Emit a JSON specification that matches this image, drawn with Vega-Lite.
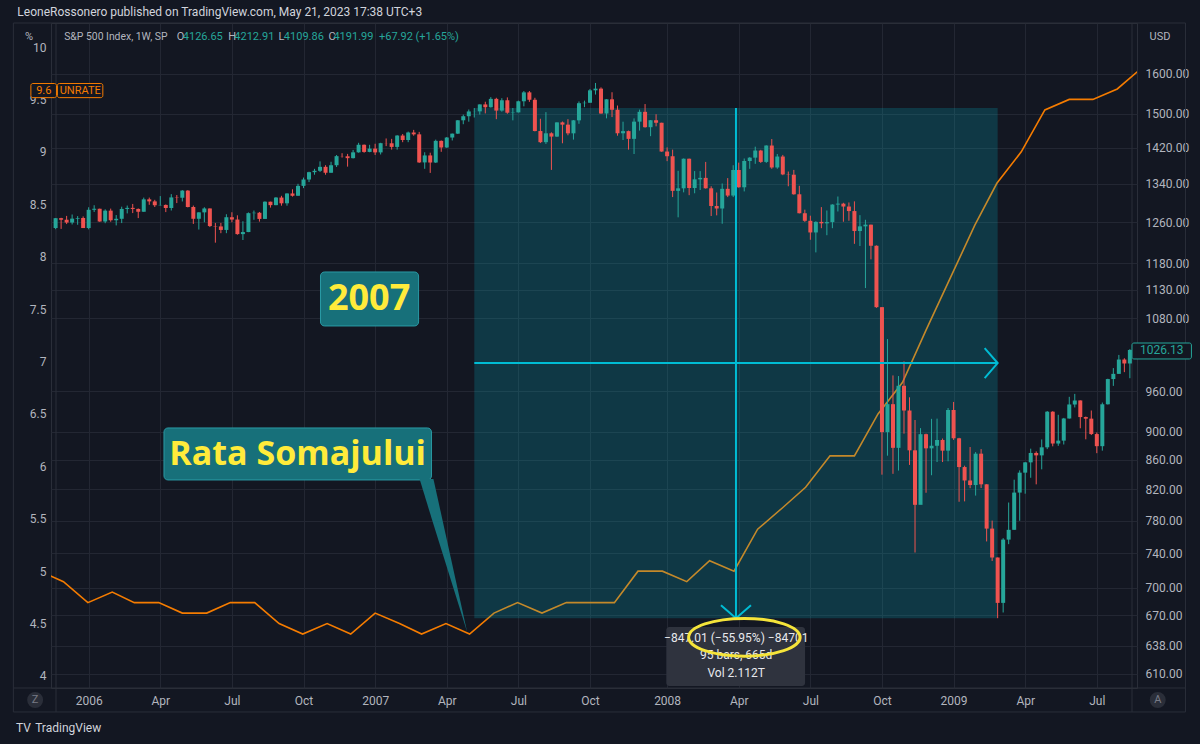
{
"$schema": "https://vega.github.io/schema/vega-lite/v6.json",
"width": 1086, "height": 665,
"autosize": {"type": "none"},
"padding": {"left": 51, "top": 23, "right": 63, "bottom": 56},
"background": "#131722",
"config": {
  "view": {"stroke": "#2a2e39", "fill": "#131722"},
  "axis": {"labelFont": "Roboto", "labelFontSize": 12, "labelColor": "#b2b5be", "domain": false, "ticks": false, "tickSize": 0, "title": null, "gridColor": "#232733", "gridWidth": 1, "labelOverlap": false, "labelFlush": false, "labelBaseline": "middle"},
  "text": {"font": "Roboto"}
},
"datasets": {
"candles": [
{"date":"2005-11-21","o":1248.3,"h":1268.6,"l":1246.0,"c":1268.25},
{"date":"2005-11-28","o":1268.25,"h":1269.0,"l":1246.6,"c":1265.08},
{"date":"2005-12-05","o":1265.08,"h":1272.9,"l":1256.3,"c":1259.37},
{"date":"2005-12-12","o":1259.37,"h":1275.8,"l":1255.5,"c":1267.32},
{"date":"2005-12-19","o":1267.32,"h":1272.5,"l":1254.9,"c":1268.66},
{"date":"2005-12-26","o":1268.66,"h":1271.8,"l":1248.3,"c":1248.29},
{"date":"2006-01-02","o":1248.29,"h":1290.7,"l":1245.7,"c":1285.45},
{"date":"2006-01-09","o":1285.45,"h":1294.9,"l":1281.0,"c":1287.61},
{"date":"2006-01-16","o":1287.61,"h":1287.8,"l":1260.9,"c":1261.49},
{"date":"2006-01-23","o":1261.49,"h":1286.4,"l":1258.0,"c":1283.72},
{"date":"2006-01-30","o":1283.72,"h":1287.9,"l":1261.0,"c":1264.03},
{"date":"2006-02-06","o":1264.03,"h":1274.6,"l":1253.6,"c":1266.99},
{"date":"2006-02-13","o":1266.99,"h":1291.9,"l":1258.3,"c":1287.24},
{"date":"2006-02-20","o":1287.24,"h":1294.2,"l":1278.0,"c":1289.43},
{"date":"2006-02-27","o":1289.43,"h":1297.6,"l":1278.7,"c":1287.23},
{"date":"2006-03-06","o":1287.23,"h":1288.2,"l":1268.4,"c":1281.42},
{"date":"2006-03-13","o":1281.42,"h":1310.9,"l":1281.4,"c":1307.25},
{"date":"2006-03-20","o":1307.25,"h":1310.9,"l":1295.8,"c":1302.95},
{"date":"2006-03-27","o":1302.95,"h":1306.2,"l":1291.2,"c":1294.87},
{"date":"2006-04-03","o":1294.87,"h":1314.1,"l":1294.2,"c":1295.5},
{"date":"2006-04-10","o":1295.5,"h":1296.6,"l":1280.7,"c":1289.12},
{"date":"2006-04-17","o":1289.12,"h":1318.2,"l":1284.0,"c":1311.28},
{"date":"2006-04-24","o":1311.28,"h":1316.3,"l":1299.4,"c":1310.61},
{"date":"2006-05-01","o":1310.61,"h":1326.7,"l":1302.8,"c":1325.76},
{"date":"2006-05-08","o":1325.76,"h":1326.7,"l":1290.4,"c":1291.24},
{"date":"2006-05-15","o":1291.24,"h":1294.2,"l":1256.6,"c":1267.03},
{"date":"2006-05-22","o":1267.03,"h":1280.5,"l":1245.3,"c":1280.16},
{"date":"2006-05-29","o":1280.16,"h":1290.7,"l":1259.9,"c":1288.22},
{"date":"2006-06-05","o":1288.22,"h":1288.2,"l":1250.3,"c":1252.3},
{"date":"2006-06-12","o":1252.3,"h":1258.6,"l":1219.3,"c":1251.54},
{"date":"2006-06-19","o":1251.54,"h":1258.6,"l":1238.0,"c":1244.5},
{"date":"2006-06-26","o":1244.5,"h":1276.3,"l":1238.0,"c":1270.2},
{"date":"2006-07-03","o":1270.2,"h":1280.4,"l":1260.0,"c":1265.48},
{"date":"2006-07-10","o":1265.48,"h":1274.1,"l":1235.0,"c":1236.2},
{"date":"2006-07-17","o":1236.2,"h":1262.0,"l":1224.5,"c":1240.29},
{"date":"2006-07-24","o":1240.29,"h":1280.0,"l":1240.1,"c":1278.55},
{"date":"2006-07-31","o":1278.55,"h":1283.9,"l":1265.0,"c":1279.36},
{"date":"2006-08-07","o":1279.36,"h":1281.0,"l":1261.3,"c":1266.74},
{"date":"2006-08-14","o":1266.74,"h":1303.0,"l":1266.7,"c":1302.3},
{"date":"2006-08-21","o":1302.3,"h":1302.3,"l":1290.0,"c":1295.09},
{"date":"2006-08-28","o":1295.09,"h":1312.0,"l":1295.0,"c":1311.01},
{"date":"2006-09-04","o":1311.01,"h":1314.7,"l":1294.0,"c":1298.92},
{"date":"2006-09-11","o":1298.92,"h":1320.0,"l":1294.0,"c":1319.66},
{"date":"2006-09-18","o":1319.66,"h":1328.5,"l":1313.0,"c":1314.78},
{"date":"2006-09-25","o":1314.78,"h":1340.3,"l":1314.8,"c":1335.85},
{"date":"2006-10-02","o":1335.85,"h":1353.8,"l":1331.0,"c":1349.59},
{"date":"2006-10-09","o":1349.59,"h":1366.6,"l":1344.0,"c":1365.62},
{"date":"2006-10-16","o":1365.62,"h":1372.9,"l":1360.0,"c":1368.6},
{"date":"2006-10-23","o":1368.6,"h":1389.5,"l":1366.0,"c":1377.34},
{"date":"2006-10-30","o":1377.34,"h":1381.0,"l":1360.0,"c":1364.3},
{"date":"2006-11-06","o":1364.3,"h":1388.6,"l":1364.3,"c":1380.9},
{"date":"2006-11-13","o":1380.9,"h":1403.8,"l":1377.0,"c":1401.2},
{"date":"2006-11-20","o":1401.2,"h":1407.9,"l":1398.0,"c":1400.95},
{"date":"2006-11-27","o":1400.95,"h":1406.3,"l":1377.8,"c":1396.71},
{"date":"2006-12-04","o":1396.71,"h":1415.3,"l":1396.0,"c":1409.84},
{"date":"2006-12-11","o":1409.84,"h":1431.6,"l":1409.0,"c":1427.09},
{"date":"2006-12-18","o":1427.09,"h":1427.7,"l":1408.9,"c":1410.76},
{"date":"2006-12-25","o":1410.76,"h":1427.0,"l":1410.0,"c":1418.3},
{"date":"2007-01-01","o":1418.3,"h":1429.4,"l":1403.9,"c":1409.71},
{"date":"2007-01-08","o":1409.71,"h":1431.6,"l":1405.0,"c":1430.73},
{"date":"2007-01-15","o":1430.73,"h":1441.6,"l":1424.0,"c":1430.5},
{"date":"2007-01-22","o":1430.5,"h":1440.7,"l":1416.0,"c":1422.18},
{"date":"2007-01-29","o":1422.18,"h":1449.3,"l":1416.0,"c":1448.39},
{"date":"2007-02-05","o":1448.39,"h":1452.0,"l":1433.0,"c":1438.06},
{"date":"2007-02-12","o":1438.06,"h":1457.6,"l":1433.0,"c":1455.54},
{"date":"2007-02-19","o":1455.54,"h":1461.6,"l":1448.0,"c":1451.19},
{"date":"2007-02-26","o":1451.19,"h":1456.9,"l":1386.0,"c":1387.17},
{"date":"2007-03-05","o":1387.17,"h":1410.0,"l":1373.0,"c":1402.84},
{"date":"2007-03-12","o":1402.84,"h":1409.0,"l":1364.0,"c":1386.95},
{"date":"2007-03-19","o":1386.95,"h":1438.9,"l":1386.0,"c":1436.11},
{"date":"2007-03-26","o":1436.11,"h":1437.0,"l":1411.0,"c":1420.86},
{"date":"2007-04-02","o":1420.86,"h":1445.0,"l":1420.0,"c":1443.76},
{"date":"2007-04-09","o":1443.76,"h":1453.0,"l":1437.0,"c":1452.85},
{"date":"2007-04-16","o":1452.85,"h":1484.7,"l":1452.0,"c":1484.35},
{"date":"2007-04-23","o":1484.35,"h":1498.0,"l":1475.0,"c":1494.07},
{"date":"2007-04-30","o":1494.07,"h":1510.3,"l":1481.0,"c":1505.62},
{"date":"2007-05-07","o":1505.62,"h":1513.8,"l":1491.0,"c":1505.85},
{"date":"2007-05-14","o":1505.85,"h":1522.8,"l":1498.0,"c":1522.75},
{"date":"2007-05-21","o":1522.75,"h":1529.3,"l":1500.8,"c":1515.73},
{"date":"2007-05-28","o":1515.73,"h":1540.6,"l":1515.0,"c":1536.34},
{"date":"2007-06-04","o":1536.34,"h":1539.0,"l":1487.0,"c":1507.67},
{"date":"2007-06-11","o":1507.67,"h":1538.0,"l":1505.0,"c":1532.91},
{"date":"2007-06-18","o":1532.91,"h":1540.0,"l":1500.0,"c":1502.56},
{"date":"2007-06-25","o":1502.56,"h":1514.0,"l":1484.2,"c":1503.35},
{"date":"2007-07-02","o":1503.35,"h":1532.0,"l":1503.0,"c":1530.44},
{"date":"2007-07-09","o":1530.44,"h":1555.9,"l":1518.0,"c":1552.5},
{"date":"2007-07-16","o":1552.5,"h":1555.9,"l":1529.0,"c":1534.1},
{"date":"2007-07-23","o":1534.1,"h":1539.0,"l":1458.0,"c":1458.95},
{"date":"2007-07-30","o":1458.95,"h":1488.0,"l":1431.0,"c":1433.06},
{"date":"2007-08-06","o":1433.06,"h":1503.9,"l":1429.0,"c":1453.64},
{"date":"2007-08-13","o":1453.64,"h":1456.0,"l":1370.6,"c":1445.94},
{"date":"2007-08-20","o":1445.94,"h":1479.4,"l":1445.0,"c":1479.37},
{"date":"2007-08-27","o":1479.37,"h":1481.5,"l":1430.5,"c":1473.99},
{"date":"2007-09-03","o":1473.99,"h":1487.0,"l":1449.0,"c":1453.55},
{"date":"2007-09-10","o":1453.55,"h":1485.0,"l":1439.0,"c":1484.25},
{"date":"2007-09-17","o":1484.25,"h":1530.0,"l":1476.0,"c":1525.75},
{"date":"2007-09-24","o":1525.75,"h":1532.0,"l":1516.0,"c":1526.75},
{"date":"2007-10-01","o":1526.75,"h":1561.0,"l":1527.0,"c":1557.59},
{"date":"2007-10-08","o":1557.59,"h":1576.1,"l":1547.0,"c":1561.8},
{"date":"2007-10-15","o":1561.8,"h":1565.0,"l":1500.0,"c":1500.63},
{"date":"2007-10-22","o":1500.63,"h":1535.5,"l":1489.0,"c":1535.28},
{"date":"2007-10-29","o":1535.28,"h":1552.8,"l":1492.0,"c":1509.65},
{"date":"2007-11-05","o":1509.65,"h":1520.0,"l":1448.0,"c":1453.7},
{"date":"2007-11-12","o":1453.7,"h":1481.0,"l":1438.0,"c":1458.74},
{"date":"2007-11-19","o":1458.74,"h":1460.0,"l":1416.0,"c":1440.7},
{"date":"2007-11-26","o":1440.7,"h":1488.9,"l":1406.0,"c":1481.14},
{"date":"2007-12-03","o":1481.14,"h":1510.0,"l":1460.0,"c":1504.66},
{"date":"2007-12-10","o":1504.66,"h":1523.6,"l":1467.0,"c":1467.95},
{"date":"2007-12-17","o":1467.95,"h":1485.0,"l":1447.0,"c":1484.46},
{"date":"2007-12-24","o":1484.46,"h":1498.9,"l":1470.0,"c":1478.49},
{"date":"2007-12-31","o":1478.49,"h":1478.5,"l":1411.0,"c":1411.63},
{"date":"2008-01-07","o":1411.63,"h":1421.0,"l":1390.0,"c":1401.02},
{"date":"2008-01-14","o":1401.02,"h":1416.0,"l":1312.0,"c":1325.19},
{"date":"2008-01-21","o":1325.19,"h":1368.6,"l":1270.0,"c":1330.61},
{"date":"2008-01-28","o":1330.61,"h":1396.0,"l":1322.0,"c":1395.42},
{"date":"2008-02-04","o":1395.42,"h":1395.7,"l":1316.0,"c":1331.29},
{"date":"2008-02-11","o":1331.29,"h":1368.0,"l":1320.0,"c":1349.99},
{"date":"2008-02-18","o":1349.99,"h":1367.9,"l":1327.0,"c":1353.11},
{"date":"2008-02-25","o":1353.11,"h":1388.3,"l":1330.0,"c":1330.63},
{"date":"2008-03-03","o":1330.63,"h":1335.0,"l":1272.7,"c":1293.37},
{"date":"2008-03-10","o":1293.37,"h":1321.7,"l":1274.0,"c":1288.14},
{"date":"2008-03-17","o":1288.14,"h":1341.0,"l":1257.0,"c":1329.51},
{"date":"2008-03-24","o":1329.51,"h":1352.6,"l":1312.0,"c":1315.22},
{"date":"2008-03-31","o":1315.22,"h":1380.9,"l":1312.0,"c":1370.4},
{"date":"2008-04-07","o":1370.4,"h":1386.7,"l":1332.0,"c":1332.83},
{"date":"2008-04-14","o":1332.83,"h":1395.9,"l":1324.0,"c":1390.33},
{"date":"2008-04-21","o":1390.33,"h":1399.0,"l":1373.0,"c":1397.84},
{"date":"2008-04-28","o":1397.84,"h":1422.7,"l":1384.0,"c":1413.9},
{"date":"2008-05-05","o":1413.9,"h":1415.5,"l":1386.0,"c":1388.28},
{"date":"2008-05-12","o":1388.28,"h":1425.9,"l":1386.0,"c":1425.35},
{"date":"2008-05-19","o":1425.35,"h":1440.2,"l":1373.0,"c":1375.93},
{"date":"2008-05-26","o":1375.93,"h":1406.0,"l":1373.0,"c":1400.38},
{"date":"2008-06-02","o":1400.38,"h":1404.0,"l":1359.0,"c":1360.68},
{"date":"2008-06-09","o":1360.68,"h":1367.0,"l":1335.0,"c":1360.03},
{"date":"2008-06-16","o":1360.03,"h":1370.6,"l":1317.0,"c":1317.93},
{"date":"2008-06-23","o":1317.93,"h":1336.0,"l":1278.0,"c":1278.38},
{"date":"2008-06-30","o":1278.38,"h":1285.7,"l":1260.7,"c":1262.9},
{"date":"2008-07-07","o":1262.9,"h":1273.3,"l":1225.0,"c":1239.49},
{"date":"2008-07-14","o":1239.49,"h":1262.0,"l":1200.4,"c":1260.68},
{"date":"2008-07-21","o":1260.68,"h":1291.0,"l":1248.0,"c":1257.76},
{"date":"2008-07-28","o":1257.76,"h":1284.0,"l":1234.0,"c":1260.31},
{"date":"2008-08-04","o":1260.31,"h":1297.0,"l":1248.0,"c":1296.32},
{"date":"2008-08-11","o":1296.32,"h":1313.2,"l":1282.0,"c":1298.2},
{"date":"2008-08-18","o":1298.2,"h":1300.0,"l":1261.0,"c":1292.2},
{"date":"2008-08-25","o":1292.2,"h":1300.7,"l":1263.0,"c":1282.83},
{"date":"2008-09-01","o":1282.83,"h":1303.0,"l":1217.0,"c":1242.31},
{"date":"2008-09-08","o":1242.31,"h":1274.4,"l":1212.8,"c":1251.7},
{"date":"2008-09-15","o":1251.7,"h":1265.0,"l":1133.5,"c":1255.08},
{"date":"2008-09-22","o":1255.08,"h":1255.1,"l":1187.0,"c":1213.27},
{"date":"2008-09-29","o":1213.27,"h":1214.0,"l":1098.0,"c":1099.23},
{"date":"2008-10-06","o":1099.23,"h":1099.2,"l":839.8,"c":899.22},
{"date":"2008-10-13","o":899.22,"h":1044.3,"l":865.8,"c":940.55},
{"date":"2008-10-20","o":940.55,"h":985.0,"l":840.9,"c":876.77},
{"date":"2008-10-27","o":876.77,"h":984.0,"l":845.3,"c":968.75},
{"date":"2008-11-03","o":968.75,"h":1007.5,"l":897.0,"c":930.99},
{"date":"2008-11-10","o":930.99,"h":951.0,"l":853.0,"c":873.29},
{"date":"2008-11-17","o":873.29,"h":916.9,"l":741.0,"c":800.03},
{"date":"2008-11-24","o":800.03,"h":905.0,"l":801.0,"c":896.24},
{"date":"2008-12-01","o":896.24,"h":897.0,"l":815.7,"c":876.07},
{"date":"2008-12-08","o":876.07,"h":918.6,"l":839.0,"c":879.73},
{"date":"2008-12-15","o":879.73,"h":918.9,"l":857.0,"c":887.88},
{"date":"2008-12-22","o":887.88,"h":890.0,"l":857.0,"c":872.8},
{"date":"2008-12-29","o":872.8,"h":934.7,"l":858.0,"c":931.8},
{"date":"2009-01-05","o":931.8,"h":943.9,"l":888.0,"c":890.35},
{"date":"2009-01-12","o":890.35,"h":891.0,"l":804.0,"c":850.12},
{"date":"2009-01-19","o":850.12,"h":852.0,"l":804.5,"c":831.95},
{"date":"2009-01-26","o":831.95,"h":877.9,"l":821.7,"c":825.88},
{"date":"2009-02-02","o":825.88,"h":870.8,"l":812.0,"c":868.6},
{"date":"2009-02-09","o":868.6,"h":875.0,"l":822.0,"c":826.84},
{"date":"2009-02-16","o":826.84,"h":827.0,"l":754.3,"c":770.05},
{"date":"2009-02-23","o":770.05,"h":780.0,"l":731.0,"c":735.09},
{"date":"2009-03-02","o":735.09,"h":735.1,"l":666.8,"c":683.38},
{"date":"2009-03-09","o":683.38,"h":758.3,"l":672.9,"c":756.55},
{"date":"2009-03-16","o":756.55,"h":803.0,"l":751.0,"c":768.54},
{"date":"2009-03-23","o":768.54,"h":833.0,"l":768.6,"c":815.94},
{"date":"2009-03-30","o":815.94,"h":845.6,"l":779.8,"c":842.5},
{"date":"2009-04-06","o":842.5,"h":856.9,"l":814.5,"c":856.56},
{"date":"2009-04-13","o":856.56,"h":875.6,"l":835.6,"c":869.6},
{"date":"2009-04-20","o":869.6,"h":871.8,"l":826.8,"c":866.23},
{"date":"2009-04-27","o":866.23,"h":888.7,"l":847.0,"c":877.52},
{"date":"2009-05-04","o":877.52,"h":930.2,"l":875.0,"c":929.23},
{"date":"2009-05-11","o":929.23,"h":930.0,"l":878.9,"c":882.88},
{"date":"2009-05-18","o":882.88,"h":924.6,"l":879.6,"c":887.0},
{"date":"2009-05-25","o":887.0,"h":920.0,"l":881.5,"c":919.14},
{"date":"2009-06-01","o":919.14,"h":951.7,"l":919.0,"c":940.09},
{"date":"2009-06-08","o":940.09,"h":956.2,"l":935.6,"c":946.21},
{"date":"2009-06-15","o":946.21,"h":946.2,"l":904.8,"c":921.23},
{"date":"2009-06-22","o":921.23,"h":922.0,"l":888.9,"c":918.9},
{"date":"2009-06-29","o":918.9,"h":931.0,"l":895.0,"c":896.42},
{"date":"2009-07-06","o":896.42,"h":898.7,"l":869.3,"c":879.13},
{"date":"2009-07-13","o":879.13,"h":943.0,"l":872.8,"c":940.38},
{"date":"2009-07-20","o":940.38,"h":979.8,"l":940.0,"c":979.26},
{"date":"2009-07-27","o":979.26,"h":996.7,"l":968.6,"c":987.48},
{"date":"2009-08-03","o":987.48,"h":1018.0,"l":987.5,"c":1010.48},
{"date":"2009-08-10","o":1010.48,"h":1012.6,"l":990.2,"c":1004.09},
{"date":"2009-08-17","o":1004.09,"h":1027.6,"l":980.6,"c":1026.13}
],
"unrate": [
{"date":"2005-11-01","v":5.0},{"date":"2005-12-01","v":4.9},{"date":"2006-01-01","v":4.7},{"date":"2006-02-01","v":4.8},
{"date":"2006-03-01","v":4.7},{"date":"2006-04-01","v":4.7},{"date":"2006-05-01","v":4.6},{"date":"2006-06-01","v":4.6},
{"date":"2006-07-01","v":4.7},{"date":"2006-08-01","v":4.7},{"date":"2006-09-01","v":4.5},{"date":"2006-10-01","v":4.4},
{"date":"2006-11-01","v":4.5},{"date":"2006-12-01","v":4.4},{"date":"2007-01-01","v":4.6},{"date":"2007-02-01","v":4.5},
{"date":"2007-03-01","v":4.4},{"date":"2007-04-01","v":4.5},{"date":"2007-05-01","v":4.4},{"date":"2007-06-01","v":4.6},
{"date":"2007-07-01","v":4.7},{"date":"2007-08-01","v":4.6},{"date":"2007-09-01","v":4.7},{"date":"2007-10-01","v":4.7},
{"date":"2007-11-01","v":4.7},{"date":"2007-12-01","v":5.0},{"date":"2008-01-01","v":5.0},{"date":"2008-02-01","v":4.9},
{"date":"2008-03-01","v":5.1},{"date":"2008-04-01","v":5.0},{"date":"2008-05-01","v":5.4},{"date":"2008-06-01","v":5.6},
{"date":"2008-07-01","v":5.8},{"date":"2008-08-01","v":6.1},{"date":"2008-09-01","v":6.1},{"date":"2008-10-01","v":6.5},
{"date":"2008-11-01","v":6.8},{"date":"2008-12-01","v":7.3},{"date":"2009-01-01","v":7.8},{"date":"2009-02-01","v":8.3},
{"date":"2009-03-01","v":8.7},{"date":"2009-04-01","v":9.0},{"date":"2009-05-01","v":9.4},{"date":"2009-06-01","v":9.5},
{"date":"2009-07-01","v":9.5},{"date":"2009-08-01","v":9.6},{"date":"2009-09-01","v":9.8}
]
},
"encoding": {
  "x": {"field": "date", "type": "temporal",
    "scale": {"type": "utc", "domain": [{"year":2005,"month":11,"date":21,"hours":12,"utc":true},{"year":2009,"month":8,"date":19,"hours":17,"utc":true}]},
    "axis": {"grid": true, "labelPadding": 12,
      "values": [{"year":2006,"month":1,"date":2,"utc":true},{"year":2006,"month":4,"date":3,"utc":true},{"year":2006,"month":7,"date":3,"utc":true},{"year":2006,"month":10,"date":2,"utc":true},{"year":2007,"month":1,"date":1,"utc":true},{"year":2007,"month":4,"date":2,"utc":true},{"year":2007,"month":7,"date":2,"utc":true},{"year":2007,"month":10,"date":1,"utc":true},{"year":2008,"month":1,"date":7,"utc":true},{"year":2008,"month":4,"date":7,"utc":true},{"year":2008,"month":7,"date":7,"utc":true},{"year":2008,"month":10,"date":6,"utc":true},{"year":2009,"month":1,"date":5,"utc":true},{"year":2009,"month":4,"date":6,"utc":true},{"year":2009,"month":7,"date":6,"utc":true}],
      "labelExpr": "utcFormat(datum.value, '%m') == '01' ? utcFormat(datum.value, '%Y') : utcFormat(datum.value, '%b')"}}
},
"layer": [
{
  "data": {"values": [{"date":"2005-09-28T08:00:00Z","date2":"2009-10-26T17:00:00Z","v":3.657,"v2":10.229}]},
  "mark": {"type": "rect", "fillOpacity": 0, "stroke": "#2a2e39", "strokeWidth": 1},
  "encoding": {"x2": {"field": "date2"}, "y": {"field": "v", "type": "quantitative", "scale": {"domain": [3.8855, 10.229], "nice": false, "zero": false}, "axis": null}, "y2": {"field": "v2"}}
},
{
  "data": {"values": [{"date":"2005-11-21T12:00:00Z","v":3.657,"v2":10.229},{"date":"2009-08-19T17:00:00Z","v":3.657,"v2":10.229}]},
  "mark": {"type": "rule", "stroke": "#2a2e39", "strokeWidth": 1},
  "encoding": {"y": {"field": "v", "type": "quantitative", "scale": {"domain": [3.8855, 10.229], "nice": false, "zero": false}, "axis": null}, "y2": {"field": "v2"}}
},
{
  "data": {"values": [{"date":"2005-09-28T08:00:00Z","date2":"2009-10-26T17:00:00Z","v":3.8855}]},
  "mark": {"type": "rule", "stroke": "#2a2e39", "strokeWidth": 1},
  "encoding": {"x2": {"field": "date2"}, "y": {"field": "v", "type": "quantitative", "scale": {"domain": [3.8855, 10.229], "nice": false, "zero": false}, "axis": null}}
},
{
  "data": {"name": "unrate"},
  "mark": {"type": "line", "color": "#f57c00", "strokeWidth": 1.6, "clip": true},
  "encoding": {"y": {"field": "v", "type": "quantitative", "scale": {"domain": [3.8855, 10.229], "nice": false, "zero": false},
    "axis": {"orient": "left", "values": [4,4.5,5,5.5,6,6.5,7,7.5,8,8.5,9,9.5,10], "format": "~g", "grid": false, "labelPadding": 5}}}
},
{
  "data": {"values": [{"date":"2007-05-07","date2":"2009-03-02","p":666.8,"p2":1513.8}]},
  "mark": {"type": "rect", "fill": "#00bcd4", "fillOpacity": 0.2},
  "encoding": {"x2": {"field": "date2"}, "y": {"field": "p", "type": "quantitative", "scale": {"type": "log", "domain": [596.0, 1735.6], "nice": false}, "axis": null}, "y2": {"field": "p2"}}
},
{
  "data": {"name": "candles"},
  "mark": {"type": "rule", "strokeWidth": 1, "clip": true},
  "encoding": {
    "y": {"field": "l", "type": "quantitative", "scale": {"type": "log", "domain": [596.0, 1735.6], "nice": false},
      "axis": {"orient": "right", "values": [610,638,670,700,740,780,820,860,900,960,1080,1130,1180,1260,1340,1420,1500,1600], "format": ".2f", "grid": true, "labelPadding": 8}},
    "y2": {"field": "h"},
    "color": {"condition": {"test": "datum.c >= datum.o", "value": "#26a69a"}, "value": "#ef5350"}
  }
},
{
  "data": {"name": "candles"},
  "mark": {"type": "bar", "width": 4, "clip": true},
  "encoding": {
    "y": {"field": "o", "type": "quantitative", "scale": {"type": "log", "domain": [596.0, 1735.6], "nice": false}, "axis": null},
    "y2": {"field": "c"},
    "color": {"condition": {"test": "datum.c >= datum.o", "value": "#26a69a"}, "value": "#ef5350"}
  }
},
{
  "data": {"values": [{"date":"2007-05-07","date2":"2009-03-02","p":1004.7}]},
  "mark": {"type": "rule", "stroke": "#00bcd4", "strokeWidth": 2},
  "encoding": {"x2": {"field": "date2"}, "y": {"field": "p", "type": "quantitative", "scale": {"type": "log", "domain": [596.0, 1735.6], "nice": false}, "axis": null}}
},
{
  "data": {"values": [{"date":"2008-04-03T12:00:00Z","p":666.8,"p2":1513.8}]},
  "mark": {"type": "rule", "stroke": "#00bcd4", "strokeWidth": 2},
  "encoding": {"y": {"field": "p", "type": "quantitative", "scale": {"type": "log", "domain": [596.0, 1735.6], "nice": false}, "axis": null}, "y2": {"field": "p2"}}
},
{
  "data": {"values": [{"date":"2009-03-02","p":1004.7}]},
  "mark": {"type": "point", "shape": "M-0.867,-1L0,0L-0.867,1", "size": 900, "filled": false, "stroke": "#00bcd4", "strokeWidth": 2, "opacity": 1},
  "encoding": {"y": {"field": "p", "type": "quantitative", "scale": {"type": "log", "domain": [596.0, 1735.6], "nice": false}, "axis": null}}
},
{
  "data": {"values": [{"date":"2008-04-03T12:00:00Z","p":666.8}]},
  "mark": {"type": "point", "shape": "M-1,-0.867L0,0L1,-0.867", "size": 900, "filled": false, "stroke": "#00bcd4", "strokeWidth": 2, "opacity": 1},
  "encoding": {"y": {"field": "p", "type": "quantitative", "scale": {"type": "log", "domain": [596.0, 1735.6], "nice": false}, "axis": null}}
},
{
  "data": {"values": [{"date":"2009-08-19T17:00:00Z","date2":"2009-11-03T05:00:00Z","p":1011.4,"p2":1037.7}]},
  "mark": {"type": "rect", "fill": "#131722", "stroke": "#26a69a", "strokeWidth": 1, "cornerRadius": 2},
  "encoding": {"x2": {"field": "date2"}, "y": {"field": "p", "type": "quantitative", "scale": {"type": "log", "domain": [596.0, 1735.6], "nice": false}, "axis": null}, "y2": {"field": "p2"}}
},
{
  "data": {"values": [{"date":"2009-08-29T19:00:00Z","p":1026.13,"t":"1026.13"}]},
  "mark": {"type": "text", "align": "left", "baseline": "middle", "fontSize": 12, "color": "#26a69a"},
  "encoding": {"y": {"field": "p", "type": "quantitative", "scale": {"type": "log", "domain": [596.0, 1735.6], "nice": false}, "axis": null}, "text": {"field": "t"}}
},
{
  "data": {"values": [
    {"date":"2005-10-20T14:00:00Z","date2":"2005-11-22T02:00:00Z","v":9.517,"v2":9.652},
    {"date":"2005-11-23T07:00:00Z","date2":"2006-01-20T00:00:00Z","v":9.517,"v2":9.652}]},
  "mark": {"type": "rect", "fill": "#131722", "stroke": "#f57c00", "strokeWidth": 1, "cornerRadius": 2},
  "encoding": {"x2": {"field": "date2"}, "y": {"field": "v", "type": "quantitative", "scale": {"domain": [3.8855, 10.229], "nice": false, "zero": false}, "axis": null}, "y2": {"field": "v2"}}
},
{
  "data": {"values": [{"date":"2005-11-06T00:00:00Z","v":9.585,"t":"9.6"},{"date":"2005-12-22T07:00:00Z","v":9.585,"t":"UNRATE"}]},
  "mark": {"type": "text", "align": "center", "baseline": "middle", "fontSize": 11, "color": "#f57c00"},
  "encoding": {"y": {"field": "v", "type": "quantitative", "scale": {"domain": [3.8855, 10.229], "nice": false, "zero": false}, "axis": null}, "text": {"field": "t"}}
},
{
  "data": {"values": [{"date":"2006-10-23T14:00:00Z","date2":"2007-02-25T05:00:00Z","v":7.339,"v2":7.854},{"date":"2006-04-07T17:00:00Z","date2":"2007-03-13T14:00:00Z","v":5.870,"v2":6.366}]},
  "mark": {"type": "rect", "fill": "#17707a", "stroke": "#2a9aa5", "strokeWidth": 1, "cornerRadius": 4},
  "encoding": {"x2": {"field": "date2"}, "y": {"field": "v", "type": "quantitative", "scale": {"domain": [3.8855, 10.229], "nice": false, "zero": false}, "axis": null}, "y2": {"field": "v2"}}
},
{
  "data": {"values": [{"date":"2007-02-26T12:00:00Z","v":5.88,"v2":5.88},{"date":"2007-03-16T02:00:00Z","v":5.88,"v2":5.447},{"date":"2007-04-27T22:00:00Z","v":4.42,"v2":4.42}]},
  "mark": {"type": "area", "fill": "#17707a", "stroke": "#2a9aa5", "strokeWidth": 0},
  "encoding": {"y": {"field": "v", "type": "quantitative", "scale": {"domain": [3.8855, 10.229], "nice": false, "zero": false}, "axis": null}, "y2": {"field": "v2"}}
},
{
  "data": {"values": [{"date":"2006-12-24T07:00:00Z","v":7.596,"t":"2007","s":36},{"date":"2006-09-24T14:00:00Z","v":6.108,"t":"Rata Somajului","s":34}]},
  "mark": {"type": "text", "align": "center", "baseline": "middle", "font": "Open Sans", "fontWeight": "bold", "color": "#ffeb3b"},
  "encoding": {"y": {"field": "v", "type": "quantitative", "scale": {"domain": [3.8855, 10.229], "nice": false, "zero": false}, "axis": null}, "text": {"field": "t"},
    "size": {"field": "s", "type": "quantitative", "scale": null}}
},
{
  "data": {"values": [{"date":"2008-01-06T00:00:00Z","date2":"2008-06-30T07:00:00Z","v":3.905,"v2":4.467}]},
  "mark": {"type": "rect", "fill": "#2f333e", "cornerRadius": 3},
  "encoding": {"x2": {"field": "date2"}, "y": {"field": "v", "type": "quantitative", "scale": {"domain": [3.8855, 10.229], "nice": false, "zero": false}, "axis": null}, "y2": {"field": "v2"}}
},
{
  "data": {"values": [{"date":"2008-04-03T19:00:00Z","v":4.362,"t":"−847.01 (−55.95%) −84701"},{"date":"2008-04-03T19:00:00Z","v":4.2,"t":"95 bars, 665d"},{"date":"2008-04-03T19:00:00Z","v":4.029,"t":"Vol 2.112T"}]},
  "mark": {"type": "text", "align": "center", "baseline": "middle", "fontSize": 12, "color": "#e8e9ed"},
  "encoding": {"y": {"field": "v", "type": "quantitative", "scale": {"domain": [3.8855, 10.229], "nice": false, "zero": false}, "axis": null}, "text": {"field": "t"}}
},
{
  "data": {"values": [{"date":"2008-04-14T02:00:00Z","v":4.369}]},
  "mark": {"type": "point", "shape": "M-1,0A1,0.34,0,1,1,1,0A1,0.34,0,1,1,-1,0Z", "size": 12400, "filled": false, "stroke": "#f5e43a", "strokeWidth": 3, "opacity": 1},
  "encoding": {"y": {"field": "v", "type": "quantitative", "scale": {"domain": [3.8855, 10.229], "nice": false, "zero": false}, "axis": null}}
},
{
  "data": {"values": [
    {"date":"2005-12-01T22:00:00Z","v":10.096,"t":"S&P 500 Index, 1W, SP","k":"t"},
    {"date":"2006-04-24T01:00:00Z","v":10.096,"t":"O","k":"g"},
    {"date":"2006-05-01T14:00:00Z","v":10.096,"t":"4126.65","k":"u"},
    {"date":"2006-06-28T12:00:00Z","v":10.096,"t":"H","k":"g"},
    {"date":"2006-07-06T02:00:00Z","v":10.096,"t":"4212.91","k":"u"},
    {"date":"2006-08-31T02:00:00Z","v":10.096,"t":"L","k":"g"},
    {"date":"2006-09-07T00:00:00Z","v":10.096,"t":"4109.86","k":"u"},
    {"date":"2006-11-02T17:00:00Z","v":10.096,"t":"C","k":"g"},
    {"date":"2006-11-09T00:00:00Z","v":10.096,"t":"4191.99","k":"u"},
    {"date":"2007-01-05T22:00:00Z","v":10.096,"t":"+67.92 (+1.65%)","k":"u"},
    {"date":"2005-10-13T00:00:00Z","v":10.096,"t":"%","k":"g"},
    {"date":"2009-09-11T00:00:00Z","v":10.096,"t":"USD","k":"g"}
  ]},
  "mark": {"type": "text", "align": "left", "baseline": "middle"},
  "encoding": {"y": {"field": "v", "type": "quantitative", "scale": {"domain": [3.8855, 10.229], "nice": false, "zero": false}, "axis": null}, "text": {"field": "t"},
    "color": {"condition": {"test": "datum.k == 'u'", "value": "#26a69a"}, "value": "#b2b5be"},
    "size": {"condition": {"test": "datum.k == 't'", "value": 10.4}, "value": 11}}
},
{
  "data": {"values": [{"date":"2005-10-03T10:00:00Z","v":10.334,"t":"LeoneRossonero published on TradingView.com, May 21, 2023 17:38 UTC+3"}]},
  "mark": {"type": "text", "align": "left", "baseline": "middle", "fontSize": 12, "color": "#d1d4dc"},
  "encoding": {"y": {"field": "v", "type": "quantitative", "scale": {"domain": [3.8855, 10.229], "nice": false, "zero": false}, "axis": null}, "text": {"field": "t"}}
},
{
  "data": {"values": [{"date":"2005-10-26T00:00:00Z","v":3.771},{"date":"2009-09-21T10:00:00Z","v":3.771}]},
  "mark": {"type": "point", "shape": "circle", "size": 254, "filled": true, "color": "#2a2e39", "opacity": 1},
  "encoding": {"y": {"field": "v", "type": "quantitative", "scale": {"domain": [3.8855, 10.229], "nice": false, "zero": false}, "axis": null}}
},
{
  "data": {"values": [{"date":"2005-10-26T00:00:00Z","v":3.771,"t":"Z"},{"date":"2009-09-21T10:00:00Z","v":3.771,"t":"A"}]},
  "mark": {"type": "text", "align": "center", "baseline": "middle", "fontSize": 11, "color": "#787b86"},
  "encoding": {"y": {"field": "v", "type": "quantitative", "scale": {"domain": [3.8855, 10.229], "nice": false, "zero": false}, "axis": null}, "text": {"field": "t"}}
},
{
  "data": {"values": [{"date":"2005-10-01T19:00:00Z","v":3.504,"t":"TV","b":"bold"},{"date":"2005-10-26T00:00:00Z","v":3.504,"t":"TradingView","b":"normal"}]},
  "mark": {"type": "text", "align": "left", "baseline": "middle", "fontSize": 12, "color": "#d1d4dc"},
  "encoding": {"y": {"field": "v", "type": "quantitative", "scale": {"domain": [3.8855, 10.229], "nice": false, "zero": false}, "axis": null}, "text": {"field": "t"},
    "fontWeight": {"field": "b", "type": "nominal", "scale": null}}
}
],
"resolve": {"scale": {"y": "independent"}}
}
